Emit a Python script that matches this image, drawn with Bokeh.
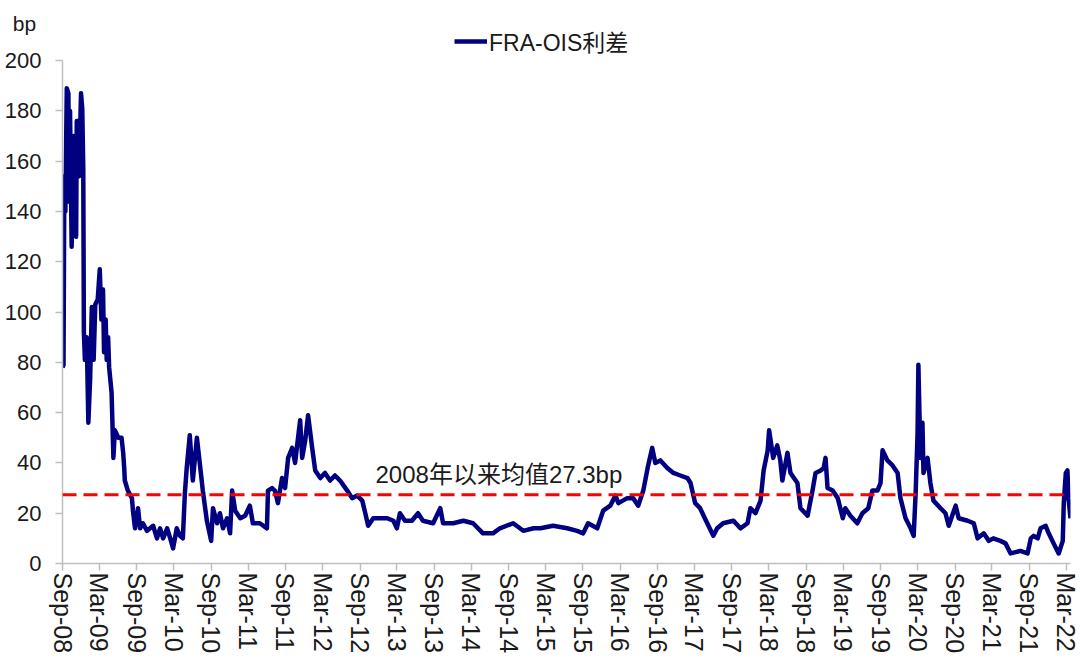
import pandas as pd
from bokeh.plotting import figure
from bokeh.models import (Span, Label, Legend, LegendItem, FixedTicker,
                          DatetimeTickFormatter, Range1d, ColumnDataSource)
from bokeh.embed import file_html
from bokeh.resources import INLINE

# ---------------- data ----------------
SERIES_NAME = "FRA-OIS利差"
UNIT = "bp"
MEAN = 27.3
MEAN_LABEL = "2008年以来均值27.3bp"

dates = [
    "2008-09-01", "2008-09-06", "2008-09-10", "2008-09-15", "2008-09-22", "2008-09-30",
    "2008-10-03", "2008-10-08", "2008-10-16", "2008-10-24", "2008-11-02", "2008-11-07",
    "2008-11-10", "2008-11-18", "2008-11-21", "2008-12-01", "2008-12-07", "2008-12-12",
    "2008-12-15", "2008-12-20", "2008-12-29", "2009-01-06", "2009-01-15", "2009-01-23",
    "2009-02-01", "2009-02-09", "2009-02-21", "2009-03-03", "2009-03-11", "2009-03-19",
    "2009-03-24", "2009-04-01", "2009-04-06", "2009-04-13", "2009-04-18", "2009-04-30",
    "2009-05-09", "2009-05-16", "2009-06-02", "2009-06-18", "2009-06-26", "2009-07-01",
    "2009-07-04", "2009-07-19", "2009-08-08", "2009-08-13", "2009-08-23", "2009-09-07",
    "2009-09-17", "2009-10-01", "2009-10-21", "2009-11-20", "2009-12-09", "2009-12-24",
    "2010-01-08", "2010-01-28", "2010-02-12", "2010-02-26", "2010-03-16", "2010-04-01",
    "2010-04-15", "2010-04-25", "2010-05-04", "2010-05-19", "2010-06-03", "2010-06-23",
    "2010-07-07", "2010-07-22", "2010-08-11", "2010-09-01", "2010-09-10", "2010-09-30",
    "2010-10-14", "2010-10-29", "2010-11-18", "2010-12-03", "2010-12-13", "2010-12-28",
    "2011-01-22", "2011-02-15", "2011-03-10", "2011-03-25", "2011-04-28", "2011-06-02",
    "2011-06-07", "2011-06-27", "2011-07-11", "2011-07-26", "2011-08-15", "2011-08-30",
    "2011-09-14", "2011-10-04", "2011-10-18", "2011-11-12", "2011-11-22", "2011-12-07",
    "2011-12-21", "2012-01-10", "2012-01-25", "2012-02-19", "2012-03-13", "2012-04-07",
    "2012-05-01", "2012-05-26", "2012-06-30", "2012-07-24", "2012-08-18", "2012-09-12",
    "2012-09-27", "2012-10-11", "2012-11-05", "2012-12-09", "2013-01-13", "2013-02-12",
    "2013-03-01", "2013-03-16", "2013-04-10", "2013-05-14", "2013-06-13", "2013-07-07",
    "2013-08-26", "2013-09-30", "2013-10-14", "2013-12-03", "2014-01-22", "2014-03-10",
    "2014-04-28", "2014-06-16", "2014-07-20", "2014-09-23", "2014-11-12", "2015-01-01",
    "2015-02-04", "2015-04-07", "2015-06-15", "2015-08-03", "2015-09-02", "2015-09-26",
    "2015-11-10", "2015-12-09", "2016-01-13", "2016-02-07", "2016-02-22", "2016-04-05",
    "2016-05-04", "2016-05-29", "2016-06-23", "2016-07-17", "2016-08-06", "2016-08-21",
    "2016-09-15", "2016-10-19", "2016-11-18", "2016-12-22", "2017-01-26", "2017-02-10",
    "2017-03-05", "2017-03-29", "2017-05-03", "2017-06-02", "2017-06-21", "2017-07-20",
    "2017-09-09", "2017-10-13", "2017-11-17", "2017-12-01", "2017-12-26", "2018-01-20",
    "2018-02-04", "2018-02-24", "2018-03-03", "2018-03-23", "2018-04-12", "2018-04-27",
    "2018-05-07", "2018-06-01", "2018-06-16", "2018-07-20", "2018-08-04", "2018-09-08",
    "2018-10-02", "2018-10-17", "2018-11-11", "2018-11-26", "2018-12-05", "2018-12-15",
    "2019-01-09", "2019-02-03", "2019-02-28", "2019-03-12", "2019-04-06", "2019-05-10",
    "2019-06-04", "2019-07-03", "2019-07-23", "2019-08-17", "2019-09-01", "2019-09-11",
    "2019-10-05", "2019-10-30", "2019-11-24", "2019-12-08", "2020-01-02", "2020-01-27",
    "2020-02-11", "2020-02-21", "2020-03-01", "2020-03-05", "2020-03-15", "2020-03-25",
    "2020-03-30", "2020-04-19", "2020-05-03", "2020-05-18", "2020-06-22", "2020-07-16",
    "2020-08-01", "2020-09-04", "2020-09-19", "2020-11-02", "2020-12-02", "2020-12-21",
    "2021-01-20", "2021-02-14", "2021-03-08", "2021-04-12", "2021-05-07", "2021-06-01",
    "2021-07-19", "2021-08-23", "2021-09-08", "2021-09-22", "2021-10-12", "2021-10-26",
    "2021-11-20", "2021-12-05", "2021-12-29", "2022-01-23", "2022-02-12", "2022-02-17",
    "2022-02-27", "2022-03-07", "2022-03-12", "2022-03-22",
]

spread = [
    78, 79, 154, 140, 189, 187,
    144, 180, 126, 170, 161, 130,
    176, 176, 154, 187, 181, 157,
    92, 81, 90, 56, 74, 102,
    81, 103, 105, 117, 97, 109,
    84, 97, 81, 90, 78, 68,
    42, 53, 50, 50, 44, 38,
    33, 29, 26, 21, 14, 22,
    14, 16, 13, 15, 10, 14,
    10, 14, 10, 6, 14, 11,
    10, 28, 38, 51, 33, 50,
    40, 29, 17, 9, 22, 16,
    20, 14, 18, 12, 29, 21,
    18, 19, 23, 16, 16, 14,
    29, 30, 29, 24, 34, 30,
    42, 46, 40, 57, 42, 49,
    59, 46, 37, 34, 36, 33,
    35, 33, 29, 26, 27, 25,
    20, 15, 18, 18, 18, 17,
    14, 20, 17, 17, 20, 17,
    16, 22, 16, 16, 17, 16,
    12, 12, 14, 16, 13, 14,
    14, 15, 14, 13, 12, 16,
    14, 21, 23, 27, 24, 26,
    26, 23, 29, 39, 46, 40,
    41, 38, 36, 35, 34, 32,
    24, 22, 16, 11, 14, 16,
    17, 14, 16, 22, 20, 25,
    37, 45, 53, 42, 47, 41,
    33, 44, 36, 32, 22, 19,
    29, 36, 37, 38, 42, 30,
    29, 26, 18, 22, 19, 16,
    20, 22, 29, 29, 32, 45,
    41, 39, 36, 26, 18, 14,
    11, 29, 52, 79, 42, 56,
    36, 42, 32, 25, 22, 20,
    15, 23, 18, 17, 16, 10,
    12, 9, 10, 9, 8, 4,
    5, 4, 10, 11, 10, 14,
    15, 12, 8, 4, 9, 24,
    36, 37, 26, 18,
]

y_ticks = list(range(0, 201, 20))
x_tick_dates = pd.date_range("2008-09-01", "2022-03-01", freq="6MS")

# ---------------- layout constants ----------------
W, H = 1080, 660
LEFT, RIGHT, BOTTOM = 62, 10, 97
AXIS_TOP_PX = 62                 # page y of the 200 tick
Y_MAX = 200
FRAME_TOP = 25                   # height taken by the unit-label panel above
AXIS_BOTTOM_PX = H - BOTTOM
Y_TOP = Y_MAX * (AXIS_BOTTOM_PX - FRAME_TOP) / (AXIS_BOTTOM_PX - AXIS_TOP_PX)
LEGEND_CY = FRAME_TOP + 17       # page y of the legend centre (inside frame)
X_START, X_END = pd.Timestamp("2008-09-01"), pd.Timestamp("2022-03-22")

src = ColumnDataSource(dict(date=pd.to_datetime(dates), v=spread))

FONT = "Liberation Sans, Noto Sans CJK SC"
TXT = "#1a1a1a"
AXC = "#BFBFBF"

p = figure(width=W, height=H, x_axis_type="datetime",
           x_range=Range1d(X_START, X_END), y_range=Range1d(0, Y_TOP),
           output_backend="svg", toolbar_location=None,
           min_border_left=LEFT, min_border_right=RIGHT,
           min_border_top=0, min_border_bottom=BOTTOM)

r = p.line("date", "v", source=src, line_color="#000080", line_width=4.5,
           line_join="round")

p.add_layout(Span(location=MEAN, dimension="width", line_color="#FF0000",
                  line_width=3, line_dash="14 7"))

p.xgrid.visible = False
p.ygrid.visible = False
p.outline_line_color = None

for ax in (p.xaxis[0], p.yaxis[0]):
    ax.axis_line_color = AXC
    ax.axis_line_width = 1.5
    ax.major_tick_line_color = AXC
    ax.major_tick_line_width = 1.5
    ax.major_tick_in = 0
    ax.major_tick_out = 7
    ax.minor_tick_line_color = None
    ax.major_label_text_font = FONT
    ax.major_label_text_color = TXT

p.yaxis.bounds = (0, Y_MAX)
p.yaxis.ticker = FixedTicker(ticks=y_ticks)
p.yaxis.major_label_text_font_size = "22px"
p.yaxis.major_label_standoff = 14

p.xaxis.ticker = FixedTicker(ticks=[d.value // 10**6 for d in x_tick_dates])
fmt = "%b-%y"
p.xaxis.formatter = DatetimeTickFormatter(days=fmt, months=fmt, years=fmt,
                                          hours=fmt, minutes=fmt, seconds=fmt)
p.xaxis.major_label_orientation = "vertical"
p.xaxis.major_label_text_font_size = "25px"
p.xaxis.major_label_standoff = 2

legend = Legend(items=[LegendItem(label=SERIES_NAME, renderers=[r])],
                location=(392, AXIS_BOTTOM_PX - LEGEND_CY - 16),
                orientation="horizontal",
                glyph_width=33, glyph_height=20, label_standoff=2,
                padding=0, margin=0, border_line_alpha=0,
                background_fill_alpha=0,
                label_text_font=FONT, label_text_font_size="23px",
                label_text_color=TXT)
p.add_layout(legend)

# unit label: lives in the top border panel (not clipped by the frame),
# positioned through the plot scales: left of the axis, above the top tick
p.add_layout(Label(x=X_START.value // 10**6, y=Y_MAX, x_offset=-38, y_offset=37,
                   text=UNIT, text_align="center", text_baseline="middle",
                   text_font=FONT, text_font_size="21px", text_color=TXT),
             "above")

p.add_layout(Label(x=pd.Timestamp("2014-07-15").value // 10**6, y=MEAN,
                   y_offset=20, text=MEAN_LABEL, text_align="center",
                   text_baseline="middle", text_font=FONT,
                   text_font_size="24px", text_color=TXT))

open("out.html", "w").write(file_html(p, INLINE))
